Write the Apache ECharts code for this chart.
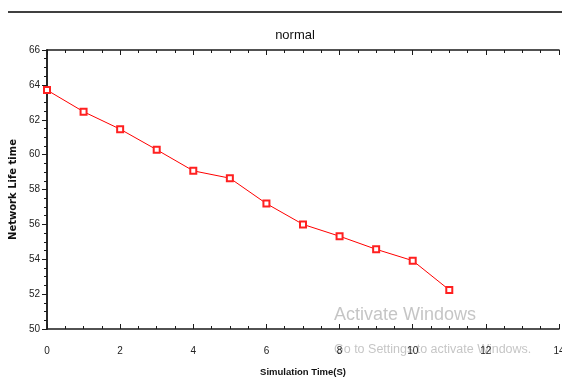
<!DOCTYPE html>
<html>
<head>
<meta charset="utf-8">
<script src="https://cdn.jsdelivr.net/npm/echarts@6/dist/echarts.min.js"></script>
<style>
  html, body { margin: 0; padding: 0; background: #fff; }
  #chart { width: 562px; height: 381px; }
</style>
</head>
<body>
<div id="chart"></div>
<script>
// simulation time (s) and network life time
const timeValues = [0, 1, 2, 3, 4, 5, 6, 7, 8, 9, 10, 11]
const lifeValues = [63.7, 62.46, 61.46, 60.28, 59.07, 58.65, 57.19, 56.0, 55.32, 54.57, 53.92, 52.24]

const chart = echarts.init(document.getElementById('chart'))

const narrow = '"Liberation Sans Narrow", "Arial Narrow", "Liberation Sans", sans-serif'
const axisColor = '#1a1a1a'

// frame axis (top / right), ticks pointing inward, no labels
function frameAxis(pos, min, max, interval) {
  return {
    type: 'value',
    position: pos,
    min, max, interval,
    axisLine: { show: true, lineStyle: { color: axisColor, width: 1.5 } },
    axisTick: { show: true, inside: true, length: 5, lineStyle: { color: axisColor } },
    minorTick: { show: true, splitNumber: 4, length: 3, lineStyle: { color: axisColor } },
    axisLabel: { show: false },
    splitLine: { show: false }
  }
}

const data = timeValues.map((t, i) => [t, lifeValues[i]])

const option = {
  animation: false,
  backgroundColor: '#fff',
  title: {
    text: 'normal',
    left: 290,
    top: 24,
    textAlign: 'center',
    textStyle: { fontFamily: narrow, fontSize: 13, fontWeight: 'normal', color: '#111' }
  },
  grid: { left: 47, right: 3, top: 50, bottom: 52, outerBoundsMode: 'none', containLabel: false },
  xAxis: [{
    type: 'value',
    min: 0,
    max: 14,
    interval: 2,
    name: 'Simulation Time(S)',
    nameLocation: 'middle',
    nameGap: 38,
    nameTextStyle: { fontFamily: narrow, fontSize: 9.5, fontWeight: 'bold', color: '#111' },
    axisLine: { onZero: false, lineStyle: { color: axisColor, width: 1.5 } },
    axisTick: { inside: true, length: 5, lineStyle: { color: axisColor } },
    minorTick: { show: true, splitNumber: 4, length: 3, lineStyle: { color: axisColor } },
    axisLabel: { margin: 17, fontFamily: narrow, fontSize: 10, color: '#222' },
    splitLine: { show: false }
  }, frameAxis('top', 0, 14, 2)],
  yAxis: [{
    type: 'value',
    min: 50,
    max: 66,
    interval: 2,
    name: 'Network Life time',
    nameLocation: 'middle',
    nameGap: 27,
    nameRotate: 90,
    nameTextStyle: { fontFamily: '"DejaVu Sans", sans-serif', fontSize: 10, fontWeight: 'bold', color: '#111' },
    axisLine: { onZero: false, lineStyle: { color: axisColor, width: 1.5 } },
    axisTick: { inside: false, length: 3, lineStyle: { color: axisColor } },
    minorTick: { show: true, splitNumber: 4, length: 3, lineStyle: { color: axisColor } },
    axisLabel: { margin: 7, fontFamily: narrow, fontSize: 10, color: '#222' },
    splitLine: { show: false }
  }, frameAxis('right', 50, 66, 2)],
  series: [{
    type: 'line',
    data,
    symbol: 'emptyRect',
    symbolSize: 6,
    lineStyle: { color: '#ff0000', width: 1 },
    itemStyle: { color: '#ff2020', borderWidth: 1 }
  }],
  graphic: [{
    type: 'line',
    shape: { x1: 8, y1: 12, x2: 562, y2: 12 },
    style: { stroke: '#000', lineWidth: 1.5 }
  }, {
    type: 'text',
    left: 334,
    top: 306,
    style: { text: 'Activate Windows', fontFamily: '"Liberation Sans", sans-serif', fontSize: 18, fill: 'rgba(150,150,150,0.55)' }
  }, {
    type: 'text',
    left: 334,
    top: 343,
    style: { text: 'Go to Settings to activate Windows.', fontFamily: '"Liberation Sans", sans-serif', fontSize: 12.5, fill: 'rgba(150,150,150,0.55)' }
  }]
}

chart.setOption(option)
</script>
</body>
</html>
